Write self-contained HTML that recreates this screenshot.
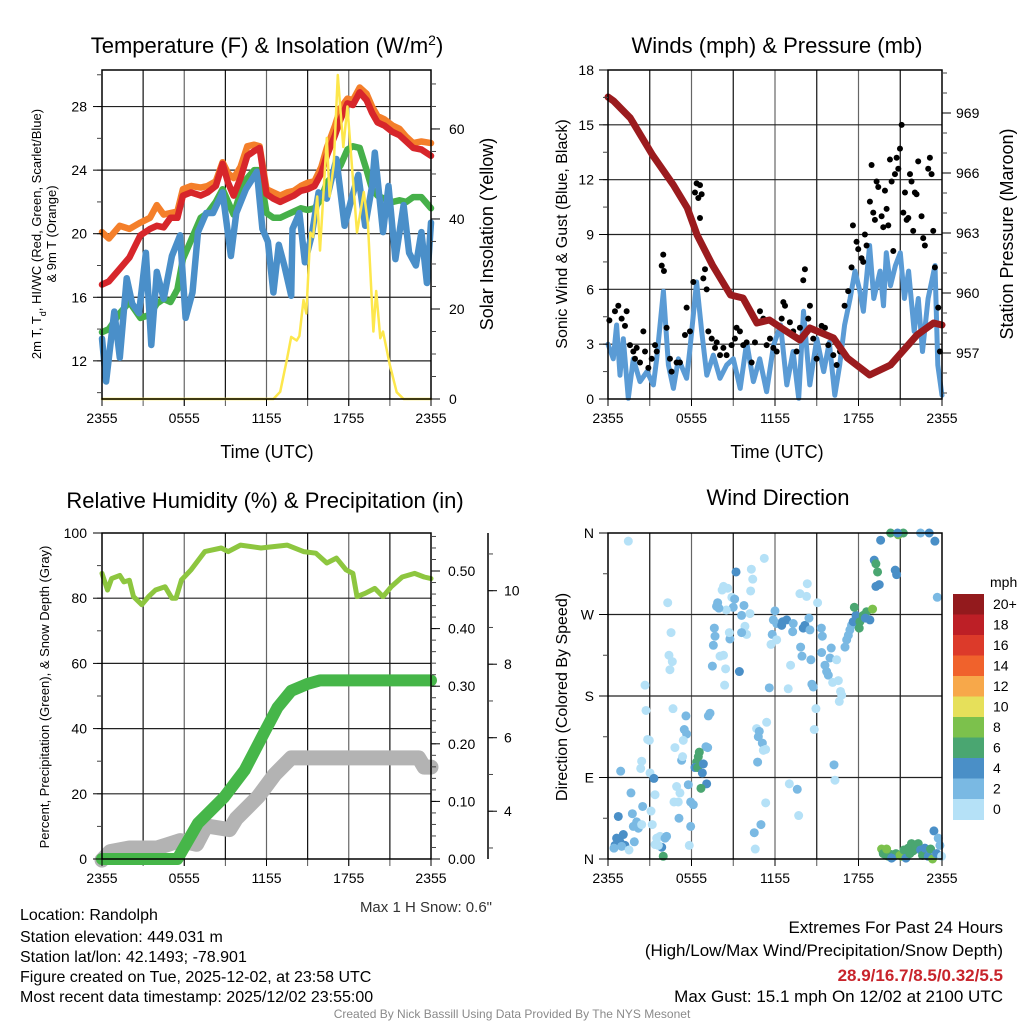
<!DOCTYPE html>
<html><head><meta charset="utf-8"><title>Mesonet Station Meteogram</title>
<style>
html,body{margin:0;padding:0;background:#fff;}
svg{display:block;font-family:"Liberation Sans",Arial,sans-serif;}
</style></head>
<body>
<svg id="chart" width="1024" height="1024" viewBox="0 0 1024 1024" xmlns="http://www.w3.org/2000/svg">
<rect x="0" y="0" width="1024" height="1024" fill="#fff"/>
<text x="267" y="53" font-size="22" text-anchor="middle">Temperature (F) &amp; Insolation (W/m<tspan baseline-shift="super" font-size="14">2</tspan>)</text>
<text x="777" y="53" font-size="22" text-anchor="middle">Winds (mph) &amp; Pressure (mb)</text>
<text x="265" y="508" font-size="22" text-anchor="middle">Relative Humidity (%) &amp; Precipitation (in)</text>
<text x="778" y="505" font-size="22" text-anchor="middle">Wind Direction</text>
<text x="267" y="458" font-size="18" text-anchor="middle">Time (UTC)</text>
<text x="777" y="458" font-size="18" text-anchor="middle">Time (UTC)</text>
<text transform="translate(41,234) rotate(-90)" font-size="13" text-anchor="middle">2m T, T<tspan baseline-shift="sub" font-size="9">d</tspan>, HI/WC (Red, Green, Scarlet/Blue)</text>
<text transform="translate(56,234) rotate(-90)" font-size="13" text-anchor="middle">&amp; 9m T (Orange)</text>
<text transform="translate(493,234) rotate(-90)" font-size="18" text-anchor="middle">Solar Insolation (Yellow)</text>
<text transform="translate(567,234) rotate(-90)" font-size="16" text-anchor="middle">Sonic Wind &amp; Gust (Blue, Black)</text>
<text transform="translate(1013,234) rotate(-90)" font-size="18" text-anchor="middle">Station Pressure (Maroon)</text>
<text transform="translate(49,697) rotate(-90)" font-size="13" text-anchor="middle">Percent, Precipitation (Green), &amp; Snow Depth (Gray)</text>
<text transform="translate(567,697) rotate(-90)" font-size="16" text-anchor="middle">Direction (Colored By Speed)</text>
<text x="492" y="912" font-size="15" fill="#333" text-anchor="end">Max 1 H Snow: 0.6"</text>
<g font-size="16">
<text x="20" y="920">Location: Randolph</text>
<text x="20" y="942">Station elevation: 449.031 m</text>
<text x="20" y="962">Station lat/lon: 42.1493; -78.901</text>
<text x="20" y="982">Figure created on Tue, 2025-12-02, at 23:58 UTC</text>
<text x="20" y="1002">Most recent data timestamp: 2025/12/02 23:55:00</text>
</g>
<g font-size="17" text-anchor="end">
<text x="1003" y="933">Extremes For Past 24 Hours</text>
<text x="1003" y="956">(High/Low/Max Wind/Precipitation/Snow Depth)</text>
<text x="1003" y="981" fill="#c8242b" font-weight="bold">28.9/16.7/8.5/0.32/5.5</text>
<text x="1003" y="1002">Max Gust: 15.1 mph On 12/02 at 2100 UTC</text>
</g>
<text x="512" y="1018" font-size="12" fill="#8a8a8a" text-anchor="middle">Created By Nick Bassill Using Data Provided By The NYS Mesonet</text>
</svg>
<script>
// ---------- Panel 1 data ----------
const tempHours=[0,0.5,1.3,2,2.8,3.5,4,4.5,5,5.5,5.9,6.5,7.2,7.7,8.3,8.8,9.2,9.6,10.1,10.6,11.1,11.5,12,12.5,13,13.5,14,14.5,15,15.5,16,16.4,17,17.4,17.9,18.3,18.8,19.3,19.7,20.1,20.6,21.2,21.7,22.2,22.7,23.3,24];
const temp2mValues=[16.8,17.0,17.8,18.5,19.9,20.3,20.5,20.4,21.0,21.0,22.4,22.6,22.4,22.6,23.0,24.4,23.2,22.4,23.5,24.9,25.2,25.4,22.5,22.2,22.0,22.2,22.4,22.7,22.8,23.0,23.8,24.9,26.2,27.2,28.2,28.1,28.9,28.4,27.6,27.0,26.8,26.4,26.2,25.8,25.4,25.3,24.9];
const temp9mValues=[20.1,19.7,20.5,20.3,20.7,21.0,21.8,21.2,21.3,21.4,22.8,23.0,22.9,23.0,23.3,24.5,23.8,23.5,24.2,25.5,25.6,25.5,22.8,22.6,22.4,22.6,22.7,23.0,23.2,23.3,24.2,25.4,26.8,27.9,28.5,28.4,29.2,28.8,28.0,27.4,27.2,26.8,26.6,26.1,25.7,25.8,25.7];
const dewpointValues=[13.8,14.0,15.0,15.7,14.7,14.9,15.6,15.9,15.7,16.5,18.4,19.6,21.0,21.3,22.0,22.8,22.0,21.2,22.6,23.5,24.0,24.0,21.3,21.0,21.0,21.2,21.4,21.6,21.5,21.6,22.2,23.2,23.8,24.3,25.3,25.5,25.4,24.0,22.8,22.4,22.2,22.0,22.1,22.0,22.3,22.3,21.6];
const windChillHours=[0,0.3,0.9,1.3,1.8,2.2,2.7,3.2,3.6,4.0,4.5,5.1,5.7,6.1,6.6,7.0,7.6,8.1,8.8,9.4,9.8,10.5,11.3,11.7,12.1,12.5,12.9,13.3,13.8,13.9,14.4,14.8,15.3,15.8,16.4,17.1,17.7,18.2,18.7,19.2,19.7,19.9,20.5,20.9,21.4,22.0,22.4,22.9,23.3,23.7,24];
const windChillValues=[13.4,10.7,15.1,12.2,17.2,15.6,15.0,18.8,13.0,17.6,15.9,18.6,19.9,14.7,16.3,20.1,21.3,21.3,22.6,18.6,21.3,22.8,23.9,20.3,19.5,16.3,19.3,18.0,16.1,20.3,21.3,18.2,19.9,22.6,22.2,24.7,20.5,22.2,23.7,20.5,23.0,25.1,20.1,23.0,18.4,21.8,18.8,18.0,20.1,16.9,20.7];
const solarHours=[0,12.5,13.0,13.5,13.8,14.2,14.4,14.7,14.9,15.2,15.4,15.7,15.9,16.4,16.6,16.9,17.2,17.6,17.9,18.6,19.1,19.4,19.8,20.0,20.3,20.5,21.0,21.5,22.0,24];
const solarValues=[0,0,1.6,9,13.8,13,14,22,19,37,36,45,33,58,45,52,72,56,65,37,46,39,15,24,13.5,15,7.5,1.5,0,0];
const tempTicks=[12,16,20,24,28];
const solarTicks=[0,20,40,60];
const timeTickHours=[0,6,12,18,24];
const timeTickLabels=["2355","0555","1155","1755","2355"];
// ---------- Panel 2 data ----------
const pressHours=[0,0.4,1.6,3.2,4.7,5.7,6.4,7.5,8.8,9.7,10.7,11.6,12.9,13.8,14.5,16.2,17.2,18.8,20.3,22.2,23.4,24];
const pressValues=[969.8,969.6,968.75,966.9,965.4,964.25,962.9,961.4,959.9,959.75,958.5,958.65,958.05,957.65,958.25,957.75,956.75,955.9,956.4,957.9,958.5,958.4];
const windHours=[0,0.38,0.62,0.86,1.1,1.46,1.82,2.3,2.8,3.26,3.5,3.98,4.34,4.7,5.06,5.65,5.89,6.37,6.73,7.1,7.57,8.05,8.53,9.0,9.5,9.97,10.45,10.9,11.4,11.9,12.4,12.85,13.3,13.7,14.05,14.5,15.0,15.5,15.9,16.3,16.65,17.0,17.4,17.75,18.1,18.35,18.8,19.1,19.55,19.8,20.0,20.3,20.65,21.0,21.3,21.6,22.0,22.3,22.6,23.0,23.5,23.7,24];
const windValues=[3.0,2.2,4.05,1.3,3.3,0.04,2.2,0.95,1.5,0.77,2.2,5.9,1.86,0.58,2.2,1.13,2.77,6.4,3.7,1.3,2.4,1.13,1.86,2.2,0.58,3.1,0.95,2.2,0.4,2.95,4.05,0.77,2.6,0.04,4.8,0.77,3.3,1.5,3.1,0.2,1.86,4.05,5.5,7.0,5.9,4.8,8.4,5.5,7.0,5.1,8.0,6.2,7.3,8.0,5.5,7.0,3.7,5.5,2.6,5.5,7.3,1.86,0.2];
const gustHours=[0.1,0.5,0.74,0.98,1.22,1.34,1.58,1.82,1.94,2.06,2.3,2.54,2.66,2.9,3.14,3.38,3.5,3.86,3.97,4.02,4.21,4.45,4.57,4.93,5.17,5.53,5.65,5.89,6.13,6.25,6.37,6.49,6.61,6.61,6.73,6.85,6.97,7.09,7.21,7.45,7.69,7.81,8.05,8.29,8.52,8.88,9.12,9.24,9.48,9.72,9.96,10.32,10.56,10.92,11.16,11.4,11.64,11.88,12.12,12.48,12.6,12.72,13.07,13.31,13.55,13.79,14.03,14.15,14.39,14.51,14.75,14.99,15.35,15.59,15.83,16.19,16.43,16.67,17.0,17.26,17.5,17.6,17.86,17.98,18.22,18.34,18.46,18.58,18.82,18.94,19.06,19.18,19.3,19.42,19.66,19.78,19.9,20.02,20.14,20.26,20.38,20.5,20.62,20.74,20.86,20.98,21.1,21.22,21.34,21.46,21.58,21.7,21.81,21.93,22.05,22.17,22.29,22.53,22.65,22.77,23.01,23.13,23.25,23.37,23.49,23.73,23.85];
const gustValues=[4.3,4.8,5.1,4.4,4.0,4.8,2.95,2.6,2.2,2.8,2.0,3.7,2.6,1.7,2.2,2.95,2.6,7.3,7.9,7.0,3.9,2.2,1.5,2.0,2.0,3.5,5.0,3.7,6.4,11.3,11.8,11.0,11.7,9.9,11.2,6.6,7.1,6.0,3.7,3.3,2.8,3.1,2.4,2.8,2.4,2.95,3.3,3.9,3.7,2.95,3.1,2.0,3.1,4.8,4.4,2.95,3.3,2.8,2.6,4.4,5.3,5.1,4.2,3.7,2.6,3.9,6.5,7.1,4.4,5.1,3.3,2.2,4.0,3.9,2.95,2.4,1.86,2.6,5.1,5.9,7.2,9.5,8.6,8.2,7.7,7.5,9.0,8.4,10.8,12.8,10.2,9.8,11.9,11.6,10.0,9.4,11.4,10.4,9.5,13.1,11.9,8.1,12.3,13.2,12.6,13.7,15.0,10.2,11.3,9.8,9.9,12.3,11.9,9.2,11.3,11.2,13.0,10.0,8.8,8.4,12.6,13.2,12.3,9.2,7.2,5.0,2.6];
const windTicks=[0,3,6,9,12,15,18];
const pressTicks=[957,960,963,966,969];
// ---------- Panel 3 data ----------
const rhHours=[0,0.4,0.7,1.3,1.6,2.0,2.3,2.9,3.4,3.9,4.6,5.1,5.4,5.8,6.5,7.5,8.7,9.2,10.1,11.6,13.5,14.7,15.6,16.4,17.1,17.8,18.3,18.6,19.2,19.9,20.5,21.1,21.9,22.8,23.5,24];
const rhValues=[87.6,82.5,86,87,85,85.5,80.5,78,80.5,82.5,83.5,80,80,85.6,88.7,94.3,95.4,94.3,96.3,95.4,96.3,94.3,93.8,90.8,92.3,88.7,87.6,80.5,81.5,83,80.5,83.5,86.5,87.6,86.5,86];
const precipHours=[0,5.5,7.0,8.9,10.4,11.8,12.8,13.8,15.0,15.9,24];
const precipValues=[0,0,0.062,0.107,0.154,0.218,0.263,0.292,0.304,0.31,0.31];
const snowHours=[0,0.6,2.0,4.0,4.7,5.7,6.9,7.6,9.3,9.8,11.4,12.6,13.8,23.1,23.5,24];
const snowValues=[2.67,2.9,3.0,3.0,3.08,3.2,3.1,3.6,3.5,3.8,4.4,5.0,5.45,5.45,5.2,5.2];
const rhTicks=[0,20,40,60,80,100];
const precipTicks=[0,0.1,0.2,0.3,0.4,0.5];
const precipTickLabels=["0.00","0.10","0.20","0.30","0.40","0.50"];
const snowTicks=[4,6,8,10];
// ---------- Panel 4 data ----------
const dirHours=[1.46,11.23,9.2,10.3,10.4,10.25,8.3,8.6,8.2,8.9,9.1,9.77,9.0,8.5,9.6,10.2,7.88,7.8,7.97,4.29,4.53,4.38,4.62,4.45,2.66,7.64,7.69,7.57,8.76,8.72,9.84,9.96,9.6,8.05,8.3,7.5,8.45,8.38,9.44,11.59,12.95,14.32,13.79,14.27,15.06,12.0,11.88,12.12,12.55,12.84,12.48,13.31,13.27,14.03,14.15,14.51,14.44,15.33,15.4,11.8,11.71,12.12,13.84,13.94,14.58,15.35,16.04,15.95,16.43,15.59,15.71,15.83,16.14,16.55,16.71,16.79,16.62,14.65,14.75,13.12,14.94,14.82,17.03,17.15,17.27,17.38,17.5,17.62,17.82,17.7,18.1,18.34,18.58,18.82,19.01,18.05,18.49,19.13,19.25,19.37,19.25,19.49,19.59,20.31,20.86,21.22,20.81,22.46,23.08,23.49,20.64,20.74,23.66,
0.74,0.91,0.62,0.5,0.86,1.1,1.22,0.98,0.43,1.51,1.82,2.06,2.18,2.42,1.89,1.75,1.65,2.49,3.09,3.18,3.02,3.3,3.38,2.35,2.42,3.5,3.74,3.86,4.1,4.21,3.62,3.97,3.38,5.1,4.93,5.17,4.74,5.05,5.77,5.94,6.13,5.94,5.84,5.29,5.36,4.81,5.48,5.65,5.41,5.6,4.67,2.73,2.85,2.97,7.21,7.33,7.04,7.16,6.56,6.49,6.37,6.25,6.44,6.85,6.78,7.09,6.68,10.68,10.87,10.8,11.4,11.09,11.16,11.33,10.75,13.03,13.6,11.33,10.99,10.51,10.58,13.7,16.24,16.31,
19.66,19.78,19.97,20.16,20.35,20.55,20.69,20.98,21.1,21.26,21.41,21.57,21.69,21.81,21.93,22.13,22.29,22.46,22.6,22.77,23.01,23.18,23.32,23.42,23.61,23.73,23.85,23.97,20.38,20.02];
const dirDegrees=[351,332,317,320,309,296,301,299,297,289,287,280,278,275,269,271,283,279,277,283,250,225,218,209,192,255,246,236,243,250,257,248,250,224,225,213,210,192,207,189,188,304,293,290,283,274,264,260,262,264,258,260,251,255,258,253,266,255,246,248,237,242,234,224,220,228,233,222,220,214,207,203,195,197,185,181,174,193,190,214,166,143,234,242,247,253,258,262,269,278,262,269,273,264,276,255,266,330,326,317,301,303,352,360,358,360,360,360,360,351,319,314,289,
47,97,23,15,19,27,15,14,12,10,36,41,34,38,19,50,73,58,53,38,95,89,71,100,108,23,25,13,23,25,15,3,16,45,80,73,63,63,82,63,60,36,15,109,113,123,143,138,131,158,166,164,132,131,158,161,124,123,118,113,107,101,101,105,95,83,78,144,141,135,151,128,120,121,107,83,77,62,38,29,11,48,104,87,
11,6,4,3,5,3,6,4,3,10,1,12,6,17,9,13,17,10,4,12,3,11,0,31,6,23,15,3,1,11];
const dirSpeeds=[1,1,5,1,1,1,1,1,1,1,3,3,3,1,3,1,3,3,3,1,1,1,1,1,1,3,3,3,3,1,1,1,3,1,1,3,1,1,5,3,1,1,1,1,1,3,3,3,5,5,5,3,3,5,5,3,3,3,3,3,1,1,3,3,3,3,3,3,1,3,3,3,1,1,1,1,1,3,3,1,1,1,3,3,3,3,3,5,5,7,7,7,7,5,9,7,5,5,7,7,5,5,5,7,9,7,5,3,5,5,5,5,3,
5,3,5,5,5,5,5,3,3,1,3,3,3,1,3,3,3,3,1,1,1,5,1,1,1,1,1,5,3,3,1,7,1,3,1,1,1,1,3,3,3,3,1,3,1,1,3,3,1,3,1,1,1,1,3,3,3,3,7,7,7,5,7,5,5,5,7,1,3,3,1,3,1,1,3,1,3,1,3,3,1,1,3,1,
9,7,7,7,7,5,7,9,9,7,5,7,7,7,7,7,7,5,7,5,5,7,9,5,5,3,3,1,5,9];
const dirTicks=[0,90,180,270,360];
const dirTickLabels=["N","E","S","W","N"];
const speedBinLabels=["0","2","4","6","8","10","12","14","16","18","20+"];
const speedBinColors=["#b5e1f7","#7ab9e3","#4a8fc7","#4aa671","#7cc14c","#e6e05a","#f7a84a","#f0622c","#dc3a2a","#bd1f26","#931a1d"];

// ---------- helpers ----------
const NS='http://www.w3.org/2000/svg';
const svg=document.getElementById('chart');
function el(tag,a,parent){const e=document.createElementNS(NS,tag);for(const k in a)e.setAttribute(k,a[k]);(parent||svg).appendChild(e);return e;}
function scale(d0,d1,r0,r1){return v=>r0+(v-d0)/(d1-d0)*(r1-r0);}
function pathD(xs,ys,fx,fy){let d='';const n=Math.min(xs.length,ys.length);for(let i=0;i<n;i++){d+=(i?'L':'M')+fx(xs[i]).toFixed(1)+','+fy(ys[i]).toFixed(1);}return d;}
function series(xs,ys,fx,fy,color,w,name){
  const p=el('path',{d:pathD(xs,ys,fx,fy),fill:'none',stroke:color,'stroke-width':w,'stroke-linejoin':'round','stroke-linecap':'round'});
  
  
  return p;
}
function panelGrid(x0,x1,y0,y1,hTicks,fy,name){
  const fx=scale(0,24,x0,x1);
  for(let h=3;h<24;h+=3){
    const g=el('line',{x1:fx(h),x2:fx(h),y1:y0,y2:y1,stroke:(h%6===0)?'#666':'#111','stroke-width':1.2});
    
    
    const t=el('line',{x1:fx(h),x2:fx(h),y1:y1,y2:y1+7,stroke:'#555','stroke-width':1});
    
    
  }
  hTicks.forEach(v=>{
    const y=fy(v);
    if(y<=y0+1||y>=y1-1)return;
    const g=el('line',{x1:x0,x2:x1,y1:y,y2:y,stroke:'#222','stroke-width':1.2});
    
    
  });
}
function frame(x0,x1,y0,y1,name){
  const r=el('rect',{x:x0,y:y0,width:x1-x0,height:y1-y0,fill:'none',stroke:'#000','stroke-width':1.5});
  
  
}
function xTicks(x0,x1,yb,name){
  const fx=scale(0,24,x0,x1);
  timeTickHours.forEach((h,i)=>{
    const t=el('line',{x1:fx(h),x2:fx(h),y1:yb,y2:yb+7,stroke:'#000','stroke-width':1});
    
    
    const l=el('text',{x:fx(h),y:yb+24,'font-size':14,'text-anchor':'middle'});
    l.textContent=timeTickLabels[i];
    
    
  });
}
function yAxis(xa,dir,ticks,labels,fy,minorFrom,minorTo,minorStep,name,lblOffset){
  for(let v=minorFrom;v<=minorTo+1e-9;v+=minorStep){
    const y=fy(v);
    const m=el('line',{x1:xa,x2:xa+dir*5,y1:y,y2:y,stroke:'#444','stroke-width':1});
    
    
  }
  ticks.forEach((v,i)=>{
    const y=fy(v);
    const t=el('line',{x1:xa,x2:xa+dir*9,y1:y,y2:y,stroke:'#000','stroke-width':1});
    
    
    const l=el('text',{x:xa+dir*lblOffset,y:y+5,'font-size':14,'text-anchor':dir<0?'end':'start'});
    l.textContent=labels[i];
    
    
  });
}

// ---------- Panel 1 ----------
(function(){
  const x0=102,x1=431,y0=70,y1=399;
  const fx=scale(0,24,x0,x1);
  const fT=scale(9.6,30.3,y1,y0);
  const fS=scale(0,73.1,y1,y0);
  panelGrid(x0,x1,y0,y1,tempTicks,fT,'temperature');
  series(tempHours,dewpointValues,fx,fT,'#46b04a',6.5,'dewpoint-line');
  series(windChillHours,windChillValues,fx,fT,'#4a8fc9',6.5,'heat-index-wind-chill-line');
  series(tempHours,temp9mValues,fx,fT,'#f47f2a',6.5,'temperature-9m-line');
  series(tempHours,temp2mValues,fx,fT,'#d7262b',6.5,'temperature-2m-line');
  series(solarHours,solarValues,fx,fS,'#fde74c',2.5,'solar-insolation-line');
  frame(x0,x1,y0,y1,'temperature');
  xTicks(x0,x1,y1,'temperature');
  yAxis(x0,-1,tempTicks,tempTicks.map(String),fT,10,30,2,'temperature-y',15);
  yAxis(x1,1,solarTicks,solarTicks.map(String),fS,0,70,5,'insolation-y',18);
})();

// ---------- Panel 2 ----------
(function(){
  const x0=608,x1=942,y0=70,y1=399;
  const fx=scale(0,24,x0,x1);
  const fW=scale(0,18,y1,y0);
  const fP=scale(954.7,971.15,y1,y0);
  panelGrid(x0,x1,y0,y1,windTicks,fW,'winds');
  series(windHours,windValues,fx,fW,'#5a9bd5',5,'sonic-wind-line');
  const n=Math.min(gustHours.length,gustValues.length);
  for(let i=0;i<n;i++){
    const c=el('circle',{cx:fx(gustHours[i]),cy:fW(gustValues[i]),r:3,fill:'#000'});
    
    
  }
  series(pressHours,pressValues,fx,fP,'#9b1b1e',7,'station-pressure-line');
  frame(x0,x1,y0,y1,'winds');
  xTicks(x0,x1,y1,'winds');
  yAxis(x0,-1,windTicks,windTicks.map(String),fW,0,18,1.5,'wind-y',14);
  yAxis(x1,1,pressTicks,pressTicks.map(String),fP,955,971,1,'pressure-y',14);
})();

// ---------- Panel 3 ----------
(function(){
  const x0=102,x1=431,y0=533,y1=859;
  const fx=scale(0,24,x0,x1);
  const fR=scale(0,100,y1,y0);
  const fPr=scale(0,0.566,y1,y0);
  const fSn=scale(2.7,11.57,y1,y0);
  panelGrid(x0,x1,y0,y1,rhTicks,fR,'humidity');
  series(snowHours,snowValues,fx,fSn,'#b3b3b3',15,'snow-depth-line');
  series(precipHours,precipValues,fx,fPr,'#46b649',12,'precipitation-line');
  series(rhHours,rhValues,fx,fR,'#8dc63f',5,'relative-humidity-line');
  frame(x0,x1,y0,y1,'humidity');
  xTicks(x0,x1,y1,'humidity');
  yAxis(x0,-1,rhTicks,rhTicks.map(String),fR,0,100,10,'humidity-y',15);
  yAxis(x1,1,precipTicks,precipTickLabels,fPr,0,0.56,0.02,'precipitation-y',17);
  const ax=el('line',{x1:488,x2:488,y1:y0,y2:y1,stroke:'#000','stroke-width':1.5});
  
  
  yAxis(488,1,snowTicks,snowTicks.map(String),fSn,3,11,1,'snow-depth-y',16);
})();

// ---------- Panel 4 ----------
(function(){
  const x0=608,x1=942,y0=533,y1=859;
  const fx=scale(0,24,x0,x1);
  const fD=scale(0,360,y1,y0);
  panelGrid(x0,x1,y0,y1,dirTicks,fD,'direction');
  const n=Math.min(dirHours.length,dirDegrees.length,dirSpeeds.length);
  for(let i=0;i<n;i++){
    const bin=Math.min(10,Math.floor(dirSpeeds[i]/2));
    const c=el('circle',{cx:fx(dirHours[i]),cy:fD(dirDegrees[i]),r:4.5,fill:speedBinColors[bin]});
    
    
  }
  frame(x0,x1,y0,y1,'direction');
  xTicks(x0,x1,y1,'direction');
  yAxis(x0,-1,dirTicks,dirTickLabels,fD,0,360,45,'direction-y',14);
  const cbTop=594,cbH=20.5,cbX=953,cbW=31;
  const t=el('text',{x:990,y:587,'font-size':14});
  t.textContent='mph';
  
  
  for(let i=0;i<speedBinLabels.length;i++){
    const k=speedBinLabels.length-1-i;
    const r=el('rect',{x:cbX,y:cbTop+i*cbH,width:cbW,height:cbH+0.5,fill:speedBinColors[k]});
    
    
    const l=el('text',{x:993,y:cbTop+i*cbH+15,'font-size':14});
    l.textContent=speedBinLabels[k];
    
    
  }
})();
</script>
</body></html>
